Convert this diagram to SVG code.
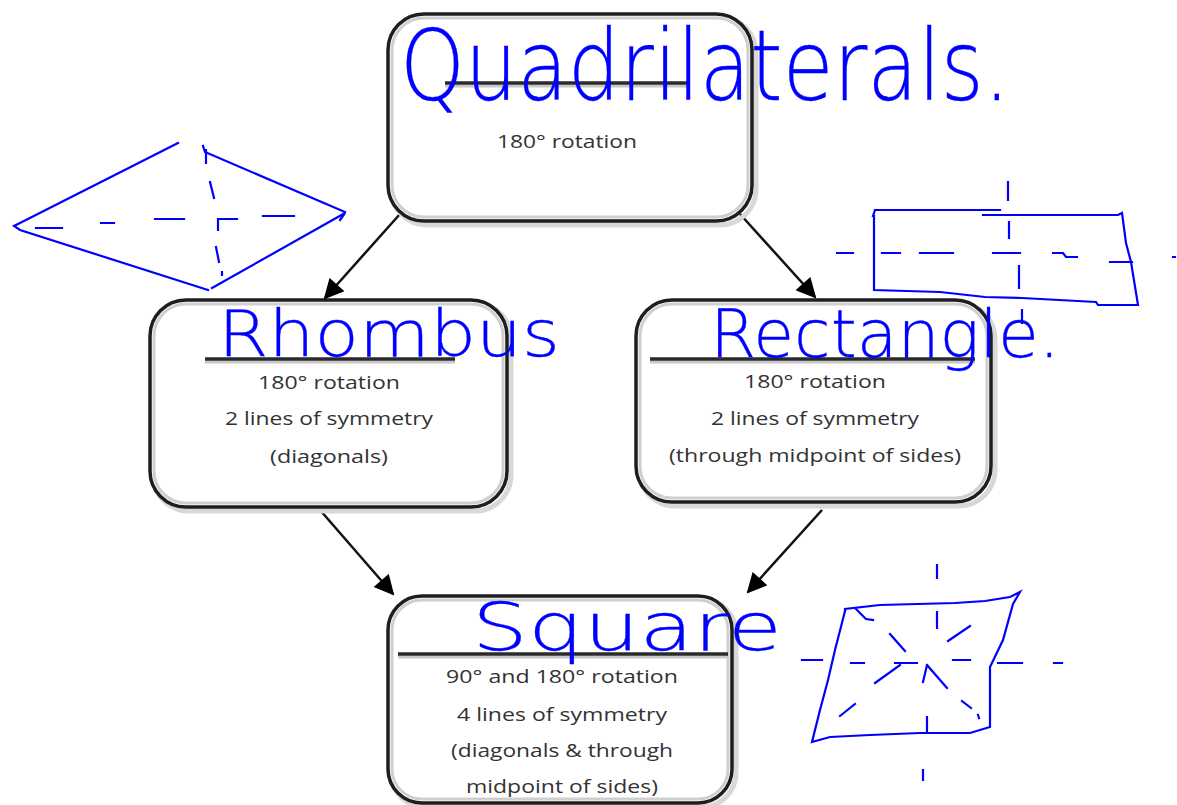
<svg xmlns="http://www.w3.org/2000/svg" width="1177" height="805" viewBox="0 0 1177 805">
<defs>
<style>
.box{fill:#fff;stroke:#1e1e1e;stroke-width:3.5}
.glow{fill:none;stroke:#cfcfcf;stroke-width:3}
.shadow{fill:none;stroke:#d8d8d8;stroke-width:5}
.ul{stroke:#2a2a2a;stroke-width:3.5}
.ulg{stroke:#c8c8c8;stroke-width:3}
.t{font-family:"Open Sans","Liberation Sans",sans-serif;font-size:18px;fill:#333;text-anchor:middle}
.hw{font-family:"DejaVu Sans","Liberation Sans",sans-serif;font-weight:200;fill:#0000ff;stroke:#0000ff;stroke-width:0.3}
.sk{fill:none;stroke:#0000ff;stroke-width:2.2;stroke-linecap:square;stroke-linejoin:miter}
.conn{stroke:#111;stroke-width:2.5;fill:none}
</style>
<marker id="ah" viewBox="0 0 10 10" refX="9" refY="5" markerWidth="8.5" markerHeight="8" markerUnits="strokeWidth" orient="auto">
<path d="M0,0 L10,5 L0,10 Z" fill="#000"/>
</marker>
</defs>
<rect width="1177" height="805" fill="#fff"/>

<g id="connectors">
<line class="conn" x1="400" y1="214" x2="325" y2="298" marker-end="url(#ah)"/>
<line class="conn" x1="740" y1="214" x2="815" y2="297" marker-end="url(#ah)"/>
<line class="conn" x1="320" y1="510" x2="393" y2="594" marker-end="url(#ah)"/>
<line class="conn" x1="822" y1="510" x2="748" y2="592" marker-end="url(#ah)"/>
</g>

<g id="quadrilaterals">
<rect class="shadow" x="391" y="17" width="365" height="208" rx="36"/>
<rect class="box" x="388" y="14" width="364" height="207" rx="36"/>
<rect class="glow" x="392" y="18" width="356" height="199" rx="32"/>
<line class="ulg" x1="445" y1="86" x2="690" y2="86"/>
<line class="ul" x1="445" y1="83" x2="690" y2="83"/>
<text class="t" x="567" y="148" textLength="140" lengthAdjust="spacingAndGlyphs">180° rotation</text>
</g>

<g id="rhombus">
<rect class="shadow" x="153" y="303" width="358" height="208" rx="36"/>
<rect class="box" x="150" y="300" width="357" height="207" rx="36"/>
<rect class="glow" x="154" y="304" width="349" height="199" rx="32"/>
<line class="ulg" x1="205" y1="362" x2="455" y2="362"/>
<line class="ul" x1="205" y1="359" x2="455" y2="359"/>
<text class="t" x="329" y="389" textLength="142" lengthAdjust="spacingAndGlyphs">180° rotation</text>
<text class="t" x="329" y="425" textLength="208" lengthAdjust="spacingAndGlyphs">2 lines of symmetry</text>
<text class="t" x="329" y="463" textLength="118" lengthAdjust="spacingAndGlyphs">(diagonals)</text>
</g>

<g id="rectangle">
<rect class="shadow" x="639" y="303" width="356" height="203" rx="36"/>
<rect class="box" x="636" y="300" width="355" height="202" rx="36"/>
<rect class="glow" x="640" y="304" width="347" height="194" rx="32"/>
<line class="ulg" x1="650" y1="362" x2="975" y2="362"/>
<line class="ul" x1="650" y1="359" x2="975" y2="359"/>
<text class="t" x="815" y="388" textLength="142" lengthAdjust="spacingAndGlyphs">180° rotation</text>
<text class="t" x="815" y="425" textLength="208" lengthAdjust="spacingAndGlyphs">2 lines of symmetry</text>
<text class="t" x="815" y="462" textLength="292" lengthAdjust="spacingAndGlyphs">(through midpoint of sides)</text>
</g>

<g id="square">
<rect class="shadow" x="391" y="599" width="345" height="208" rx="34"/>
<rect class="box" x="388" y="596" width="344" height="207" rx="34"/>
<rect class="glow" x="392" y="600" width="336" height="199" rx="30"/>
<line class="ulg" x1="398" y1="657" x2="728" y2="657"/>
<line class="ul" x1="398" y1="654" x2="728" y2="654"/>
<text class="t" x="562" y="683" textLength="232" lengthAdjust="spacingAndGlyphs">90° and 180° rotation</text>
<text class="t" x="562" y="721" textLength="210" lengthAdjust="spacingAndGlyphs">4 lines of symmetry</text>
<text class="t" x="562" y="757" textLength="222" lengthAdjust="spacingAndGlyphs">(diagonals &amp; through</text>
<text class="t" x="562" y="793" textLength="192" lengthAdjust="spacingAndGlyphs">midpoint of sides)</text>
</g>

<g id="handwriting">
<text class="hw" x="400" y="100" font-size="98" textLength="610" lengthAdjust="spacingAndGlyphs">Quadrilaterals.</text>
<text class="hw" x="218" y="356" font-size="64" textLength="342" lengthAdjust="spacingAndGlyphs">Rhombus</text>
<text class="hw" x="710" y="357" font-size="66" textLength="350" lengthAdjust="spacingAndGlyphs">Rectangle.</text>
<text class="hw" x="472" y="650" font-size="66" textLength="310" lengthAdjust="spacingAndGlyphs">Square</text>
</g>

<g id="rhombus-sketch">
<path class="sk" d="M178,143 L20,223 L14,226 L20,230 L208,290 M212,288 L345,213 L340,220 M345,212 L205,152 L203,146"/>
<path class="sk" d="M36,228 H62 M101,223 H114 M155,219 H184 M218,219 H237 M218,219 V230 M263,216 H294 M206,150 V163 M210,182 L214,198 M216,247 L219,262 M222,272 V275"/>
</g>

<g id="rectangle-sketch">
<path class="sk" d="M873,216 L875,210 H1000 M983,215 H1118 L1122,213 L1126,243 L1131,262 L1138,305 L1098,305 L1096,302 L1022,298 L985,297 L940,292 L874,290 V216"/>
<path class="sk" d="M837,253 H853 M882,253 H900 M920,253 H953 M993,253 H1020 M1053,253 H1063 L1066,257 H1077 M1110,262 H1132 M1173,257 H1175 M1008,182 V200 M1009,222 V238 M1019,266 V288 M1022,310 V323"/>
</g>

<g id="square-sketch">
<path class="sk" d="M845,611 V609 L880,605 L955,603 L985,601 L1010,597 L1020,592 L1013,604 L1003,640 L990,667 V727 L970,733 L920,733 L870,735 L830,737 L812,742 L820,710 L828,680 L835,650 L845,611"/>
<path class="sk" d="M937,565 V578 M937,612 V628 M927,717 V733 M923,770 V780 M802,660 H822 M851,663 H864 M895,663 H917 M953,660 H970 M998,663 H1022 M1054,663 H1062 M890,634 L905,651 M927,665 L947,688 M927,665 L923,682 M970,626 L948,641 M900,665 L875,683 M855,704 L840,716 M962,701 L971,708 M978,715 L979,718 M856,609 L866,619 L873,620"/>
</g>
</svg>
